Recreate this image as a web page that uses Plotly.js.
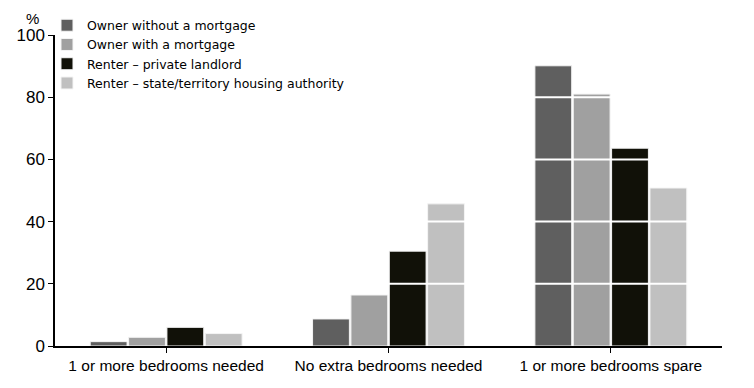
<!DOCTYPE html>
<html><head><meta charset="utf-8">
<script src="https://cdn.plot.ly/plotly-3.0.1.min.js"></script>
<style>body{margin:0}#c{width:754px;height:388px}</style>
</head><body><div id="c"></div>
<script>
const categories = ["1 or more bedrooms needed", "No extra bedrooms needed", "1 or more bedrooms spare"];
const ownerNoMortgage = [1.4, 8.7, 90.1];
const ownerMortgage = [2.8, 16.4, 81.0];
const renterPrivate = [6.0, 30.5, 63.6];
const renterState = [4.0, 45.7, 50.8];
const seriesNames = ["Owner without a mortgage", "Owner with a mortgage", "Renter – private landlord", "Renter – state/territory housing authority"];
const yTicks = [0, 20, 40, 60, 80, 100];

const colors = ["#5f5f5f", "#a0a0a0", "#111108", "#c0c0c0"];
const vals = [ownerNoMortgage, ownerMortgage, renterPrivate, renterState];
const font = "'Liberation Sans', Arial, sans-serif";
const data = vals.map((v, i) => ({
  type: 'bar', x: categories, y: v, name: seriesNames[i],
  marker: {color: colors[i], line: {color: '#f4f4f4', width: 1}}
}));
const layout = {
  width: 754, height: 388,
  margin: {l: 55, r: 32, t: 34, b: 42},
  paper_bgcolor: '#fff', plot_bgcolor: '#fff',
  font: {family: font, size: 15, color: '#000'},
  barmode: 'group', bargap: 0.31, bargroupgap: 0.04,
  showlegend: true,
  legend: {x: -0.012, y: 1.075, xanchor: 'left', yanchor: 'top', bgcolor: 'rgba(0,0,0,0)',
           font: {family: "'DejaVu Sans', sans-serif", size: 12.5}, tracegroupgap: 0, itemwidth: 30},
  xaxis: {showline: true, linecolor: '#000', linewidth: 1.5, ticks: 'outside', ticklen: 5,
          tickcolor: '#000', showgrid: false, zeroline: false, tickfont: {size: 15.5}},
  yaxis: {range: [0, 100], tickvals: yTicks, showline: true, linecolor: '#000', linewidth: 1.5,
          ticks: 'outside', ticklen: 5, tickcolor: '#000', showgrid: false, zeroline: false,
          tickfont: {size: 17}},
  shapes: yTicks.filter(t => t > 0 && t < 100).map(t => ({
    type: 'line', xref: 'paper', yref: 'y', x0: 0, x1: 1, y0: t, y1: t,
    line: {color: '#ffffff', width: 2}, layer: 'above'
  })),
  annotations: [{text: '%', xref: 'paper', yref: 'paper', x: -0.033, y: 1.02, xanchor: 'center',
                 yanchor: 'bottom', showarrow: false, font: {size: 15}}]
};
Plotly.newPlot('c', data, layout, {displayModeBar: false});
</script></body></html>
